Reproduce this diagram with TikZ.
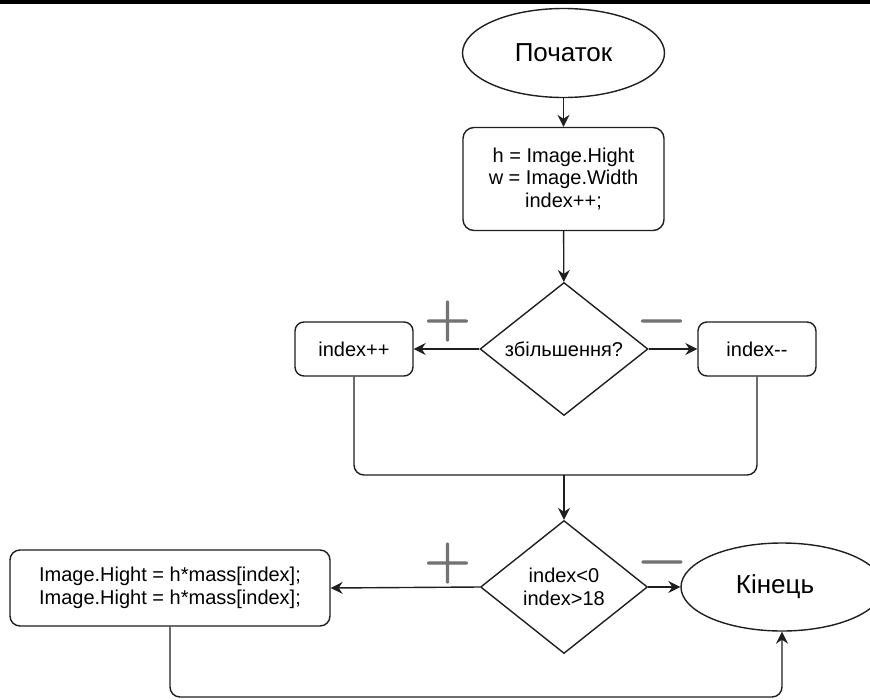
\documentclass[tikz,border=0pt]{standalone}
\usepackage{fontspec}
\setmainfont{Liberation Sans}
\newfontfamily\lmfont[FakeBold=1.5]{Latin Modern Roman}
\usetikzlibrary{shapes.geometric,arrows.meta}
\begin{document}
\begin{tikzpicture}[x=1pt,y=-1pt,
  line/.style={draw=black!88, line width=1.4pt},
  arr/.style={line, -{Stealth[length=12pt,width=12pt,inset=4pt]}},
  box/.style={line, rounded corners=11pt, inner sep=0pt, align=center, font=\fontsize{20}{22.5}\selectfont},
  term/.style={line, ellipse, inner sep=0pt, minimum width=202pt, minimum height=89pt, font=\fontsize{26}{30}\selectfont},
  dec/.style={line, diamond, inner sep=0pt, align=center, font=\fontsize{20}{22.5}\selectfont},
  sign/.style={text=black!55, inner sep=0pt, anchor=base, font=\lmfont\fontsize{64}{64}\selectfont}
]
\useasboundingbox (0,0) rectangle (870,699);
\fill[black] (0,0) rectangle (870,4);

\node[term] (start) at (563.5,53) {Початок};
\node[box, minimum width=201pt, minimum height=103pt] (init) at (563.5,179) {h = Image.Hight\\w = Image.Width\\index++;};
\node[dec, minimum width=168pt, minimum height=133pt] (d1) at (564,349) {збільшення?};
\node[box, rounded corners=9pt, minimum width=118pt, minimum height=54pt] (ipp) at (354,349) {index++};
\node[box, rounded corners=9pt, minimum width=118pt, minimum height=54pt] (imm) at (757,349) {index-{}-};
\coordinate (merge) at (564,475);
\node[dec, minimum width=167pt, minimum height=133pt] (d2) at (564,587) {index<0\\index>18};
\node[box, rounded corners=10pt, minimum width=320pt, minimum height=76pt] (calc) at (170,588) {Image.Hight = h*mass[index];\\Image.Hight = h*mass[index];};
\node[term, minimum height=88pt] (end) at (782,587) {Кінець\hspace*{14pt}};
\coordinate (low) at (476,697);

\node[sign] (p1) at (447.5,337) {+};
\node[sign] (m1) at (661.5,337) {−};
\node[sign] (p2) at (447.5,579) {+};
\node[sign] (m2) at (662,578) {−};

\draw[arr] (start) -- (init);
\draw[arr] (init) -- (d1);
\draw[arr] (d1) -- (ipp);
\draw[arr] (d1) -- (imm);
\draw[line, rounded corners=10pt] (ipp.south) |- (merge) -| (imm.south);
\draw[arr] (merge) -- (d2);
\draw[arr] (d2.west) -- (calc.east);
\draw[arr] (d2) -- (end);
\draw[arr, rounded corners=10pt] (calc.south) |- (low) -| (end.south);
\end{tikzpicture}
\end{document}
